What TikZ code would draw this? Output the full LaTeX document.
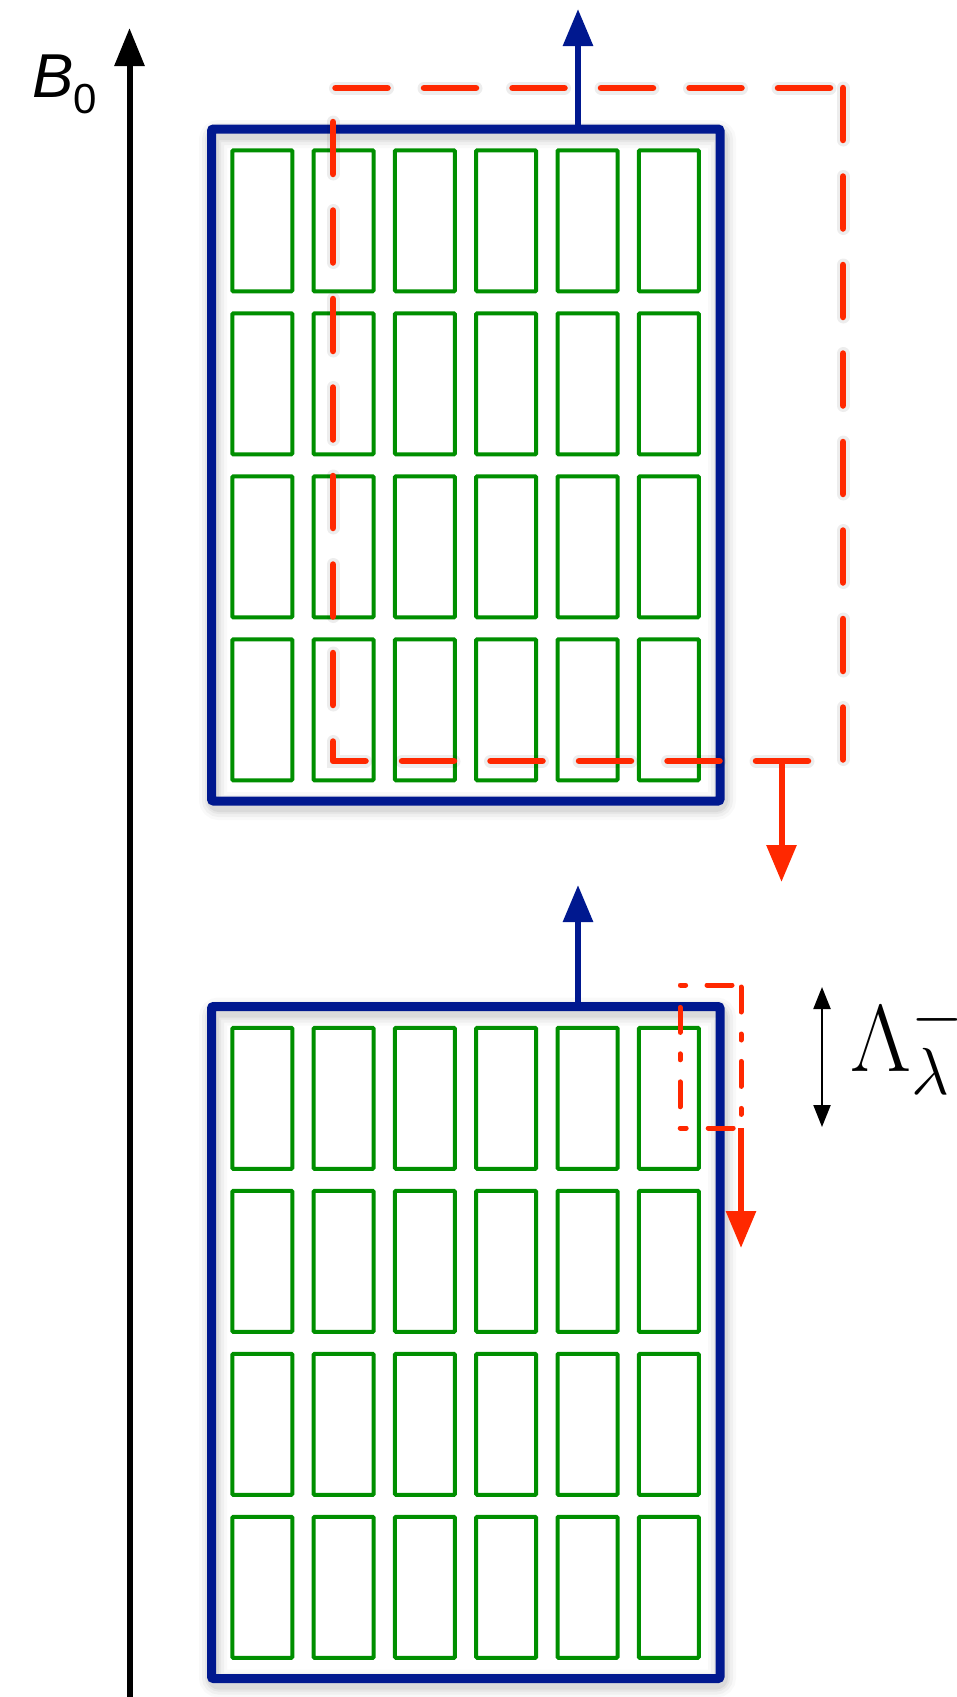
\RequirePackage{fix-cm}
\documentclass[tikz,border=0pt]{standalone}
\usepackage{fontspec}
\newfontfamily\lsans{Liberation Sans}
\usetikzlibrary{arrows.meta}
\definecolor{bxblue}{RGB}{0,24,143}
\definecolor{cellgreen}{RGB}{0,143,0}
\definecolor{pathred}{RGB}{255,40,0}
\begin{document}
\begin{tikzpicture}[x=1pt,y=-1pt,
  bluebox/.style={draw=bxblue, line width=9pt, minimum width=508.5pt, minimum height=672pt, inner sep=0pt, outer sep=0pt, rounded corners=2pt},
  cellbox/.style={draw=cellgreen, line width=4pt, minimum width=60pt, minimum height=141pt, inner sep=0pt, outer sep=0pt, rounded corners=1pt},
  bluearrow/.style={draw=bxblue, line width=6pt, -{Triangle[length=37pt,width=29pt]}},
  blackarrow/.style={draw=black, line width=6pt, -{Triangle[length=38pt,width=29pt]}},
  redarrow/.style={draw=pathred, line width=6pt, -{Triangle[length=37pt,width=29pt]}},
  lamarrow/.style={draw=black, line width=2.2pt, {Triangle[length=22pt,width=17pt]}-{Triangle[length=22pt,width=17pt]}},
  reddash/.style={draw=pathred, line width=6.5pt, line cap=round, line join=round, dash pattern=on 52pt off 36.5pt},
  reddashdot/.style={draw=pathred, line width=5pt, line cap=round, line join=round, dash pattern=on 25pt off 22pt on 6pt off 21.4pt, dash phase=72.4pt},
  softshadow/.style={draw=black, opacity=#1}
]
\useasboundingbox (0,0) rectangle (956,1697);

% soft shadows of the blue frames
\foreach \dy in {0,877.5}{
  \foreach \w/\o in {28/0.025,22/0.035,16/0.045,12/0.05}{
    \draw[softshadow=\o, line width=\w pt, rounded corners=6pt] (213,134+\dy) rectangle (722,806+\dy);
  }
}

% blue frames
\node[bluebox] (topbox) at (465.75,465) {};
\node[bluebox] (botbox) at (465.75,1342.5) {};

% green cells
\foreach \c in {0,...,5}{
  \foreach \r in {0,...,3}{
    \node[cellbox] (t\r\c) at (262.3+81.3*\c, 220.8+163*\r) {};
    \node[cellbox] (b\r\c) at (262.3+81.3*\c, 1098.3+163*\r) {};
  }
}

% B0 axis
\coordinate (b0start) at (129.5,1700);
\coordinate (b0tip) at (129.5,28);
\draw[blackarrow] (b0start) -- (b0tip);
\node[anchor=base west, inner sep=0pt] (b0label) at (32,97)
  {\lsans\fontsize{62}{64}\selectfont\textit{B}\raisebox{-16pt}{\fontsize{42}{44}\selectfont 0}};

% blue arrows
\coordinate (uptip1) at (578,9);
\draw[bluearrow] (uptip1 |- topbox.north) -- (uptip1);
\coordinate (uptip2) at (578,885);
\draw[bluearrow] (uptip2 |- botbox.north) -- (uptip2);

% red dashed region (top block)
\coordinate (dtl) at (333,88);
\coordinate (dbr) at (843,761);
\draw[softshadow=0.07, line width=13pt, line cap=round, dash pattern=on 52pt off 36.5pt, shift={(2,5)}]
  (dbr |- dtl) -- (dbr) -- (dtl |- dbr) -- (dtl) -- cycle;
\draw[reddash] (dbr |- dtl) -- (dbr) -- (dtl |- dbr) -- (dtl) -- cycle;
\coordinate (dn1) at (781.5,882);
\draw[redarrow] (dn1 |- dbr) -- (dn1);

% red dash-dot region (bottom block)
\coordinate (ctl) at (680,985);
\coordinate (cbr) at (741,1128);
\draw[reddashdot] (cbr |- ctl) -- (cbr) -- (ctl |- cbr) -- (ctl) -- cycle;
\coordinate (dn2) at (741,1248);
\draw[redarrow] (cbr) -- (dn2);

% Lambda size marker
\coordinate (la) at (822,987);
\coordinate (lb) at (822,1127);
\draw[lamarrow] (la) -- (lb);
\node[anchor=base west, inner sep=0pt] (lamlabel) at (850,1071)
  {\fontsize{95}{98}\selectfont$\Lambda^-_\lambda$};
\end{tikzpicture}
\end{document}
